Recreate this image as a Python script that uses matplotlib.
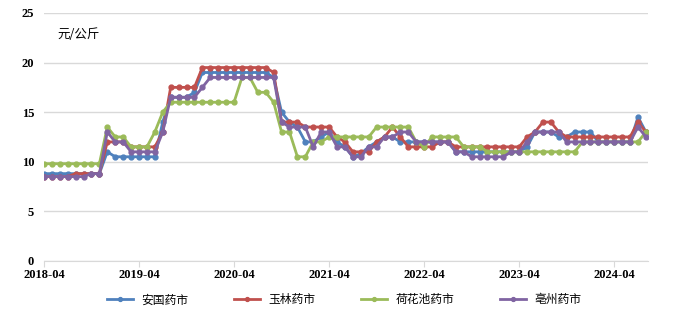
import matplotlib.pyplot as plt

plt.rcParams['font.family'] = ['Noto Sans CJK SC', 'DejaVu Sans']

# 2018-04 ... 2024-08, monthly
months = list(range(77))
tick_pos = [0, 12, 24, 36, 48, 60, 72]
tick_labels = ["2018-04", "2019-04", "2020-04", "2021-04", "2022-04", "2023-04", "2024-04"]

anguo = ([8.8] * 8 + [11] + [10.5] * 6 + [14] + [16.5] * 3 + [17] + [19] * 9 + [18.5]
         + [15, 14, 13.5, 12, 12, 12.5, 13, 12, 11.5, 10.5, 10.8, 11.5, 12, 12.5, 12.5]
         + [12] * 7 + [11] * 9 + [11.5] + [13] * 3 + [12.5] * 2 + [13] * 3 + [12] * 5 + [14.5, 13])
yulin = ([8.5] * 4 + [8.8] * 4 + [12] * 3 + [11.5] * 4 + [13] + [17.5] * 4 + [19.5] * 9 + [19]
         + [14] * 3 + [13.5] * 4 + [12.5, 12] + [11] * 3 + [12, 12.5, 13.5, 12.5] + [11.5] * 4
         + [12] * 2 + [11.5] * 9 + [12.5, 13, 14, 14, 13] + [12.5] * 9 + [14, 13])
hehuachi = ([9.8] * 8 + [13.5] + [12.5] * 2 + [11.5] * 3 + [13, 15] + [16] * 9 + [18.5] * 2
            + [17] * 2 + [16] + [13] * 2 + [10.5] * 2 + [12] * 2 + [12.5] + [12.5] * 5
            + [13.5] * 5 + [12, 11.5] + [12.5] * 4 + [11.5] * 3 + [11] * 12 + [12] * 8 + [13])
bozhou = ([8.5] * 6 + [8.8] * 2 + [13] + [12] * 2 + [11] * 4 + [13] + [16.5] * 4 + [17.5]
          + [18.5] * 9 + [14] + [13.5] * 3 + [11.5] + [13] * 2 + [11.5] * 2 + [10.5] * 2
          + [11.5] * 2 + [12.5] * 2 + [13] * 2 + [12] * 5 + [11] * 2 + [10.5] * 5 + [11] * 2
          + [12] + [13] * 4 + [12] * 9 + [13.5, 12.5])

series = [("安国药市", anguo, "#4F81BD"),
          ("玉林药市", yulin, "#C0504D"),
          ("荷花池药市", hehuachi, "#9BBB59"),
          ("亳州药市", bozhou, "#8064A2")]

fig = plt.figure(figsize=(6.76, 3.17), dpi=100)
ax = fig.add_axes([0.065, 0.177, 0.894, 0.782])

for name, vals, color in series:
    ax.plot(months, vals, color=color, lw=2, marker="o", markersize=3.5, label=name)

ax.set_ylim(0, 25)
ax.set_xlim(0, 76.3)
ax.set_yticks([0, 5, 10, 15, 20, 25])
ax.set_xticks(tick_pos)
ax.set_xticklabels(tick_labels)
ax.grid(axis="y", color="#D9D9D9", lw=1)
ax.set_axisbelow(True)
for s in ["left", "right", "top"]:
    ax.spines[s].set_visible(False)
ax.spines["bottom"].set_color("#D9D9D9")
ax.tick_params(axis="y", length=0, pad=7)
ax.tick_params(axis="x", length=4, color="#D9D9D9", pad=2)
for lab in ax.get_xticklabels() + ax.get_yticklabels():
    lab.set_family("Liberation Serif")
    lab.set_fontweight("bold")
    lab.set_fontsize(9)

ax.text(1.7, 22.8, "元/公斤", fontsize=9, va="center")

fig.legend(loc="lower center", bbox_to_anchor=(0.509, 0.0), ncol=4, frameon=False,
           fontsize=8.5, handlelength=2.2, handletextpad=0.7, columnspacing=3.9,
           markerscale=0.8)

fig.savefig("out.png", dpi=100)
